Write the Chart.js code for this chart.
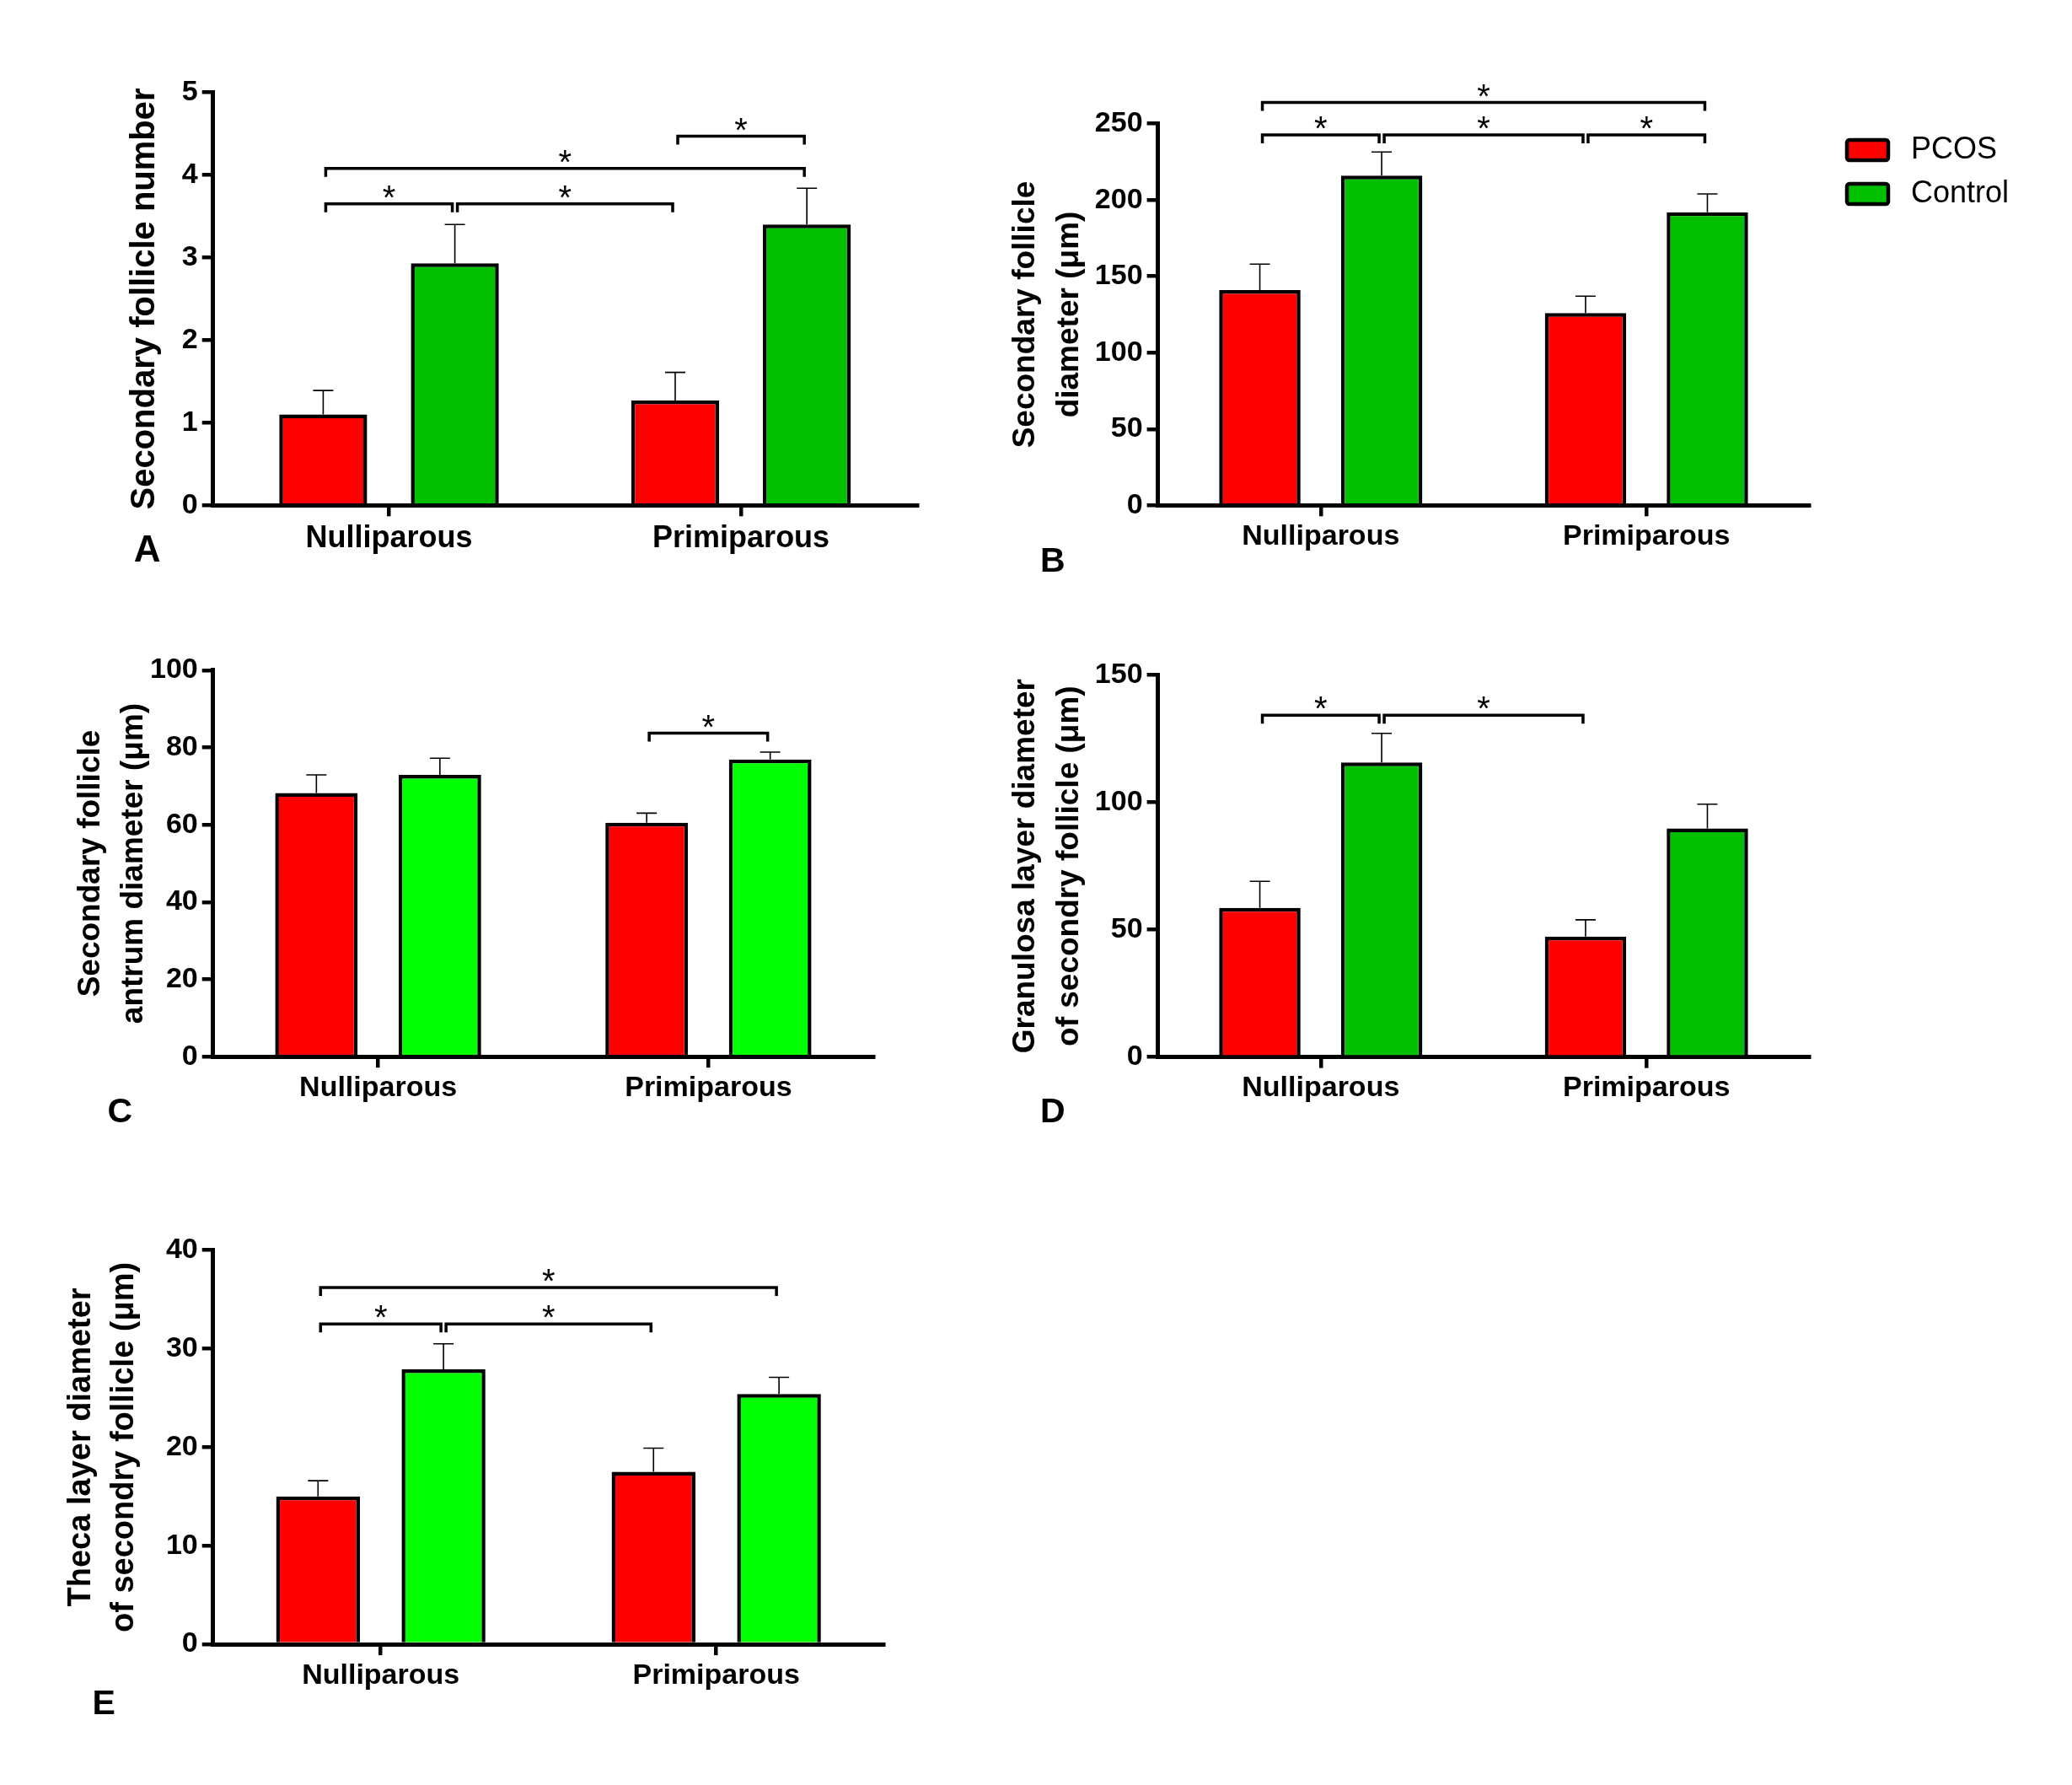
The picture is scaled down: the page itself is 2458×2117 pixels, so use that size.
<!DOCTYPE html>
<html>
<head>
<meta charset="utf-8">
<title>Secondary follicle measurements</title>
<script src="https://cdn.jsdelivr.net/npm/chart.js@4.4.1/dist/chart.umd.min.js"></script>
<style>
  body { margin: 0; background: #fff; }
  #page { position: relative; width: 2458px; height: 2117px; background: #fff; overflow: hidden; }
  #page canvas { position: absolute; }
</style>
</head>
<body>
<div id="page">
  <canvas id="panelA" width="1150" height="700" style="left:0px;top:0px"></canvas>
  <canvas id="panelB" width="1308" height="700" style="left:1150px;top:0px"></canvas>
  <canvas id="panelC" width="1150" height="700" style="left:0px;top:700px"></canvas>
  <canvas id="panelD" width="1308" height="700" style="left:1150px;top:700px"></canvas>
  <canvas id="panelE" width="1150" height="717" style="left:0px;top:1400px"></canvas>
</div>
<script>
const categories = ['Nulliparous', 'Primiparous'];
const groups = ['PCOS', 'Control'];

// bar index used by brackets: 0 = Nulli PCOS, 1 = Nulli Control, 2 = Primi PCOS, 3 = Primi Control

// A - secondary follicle number
const numberPcos = [1.10, 1.27];
const numberPcosSem = [0.29, 0.34];
const numberControl = [2.93, 3.40];
const numberControlSem = [0.47, 0.44];
const numberTicks = [0, 1, 2, 3, 4, 5];
const numberBrackets = [[0, 1, 3.65], [1, 2, 3.65], [0, 3, 4.08], [2, 3, 4.47]];

// B - secondary follicle diameter
const diameterPcos = [141, 126];
const diameterPcosSem = [17, 11];
const diameterControl = [216, 192];
const diameterControlSem = [15.5, 12];
const diameterTicks = [0, 50, 100, 150, 200, 250];
const diameterBrackets = [[0, 1, 242.6], [1, 2, 242.6], [2, 3, 242.6], [0, 3, 263.9]];

// C - antrum diameter
const antrumPcos = [68.2, 60.5];
const antrumPcosSem = [4.7, 2.5];
const antrumControl = [72.9, 76.9];
const antrumControlSem = [4.3, 1.9];
const antrumTicks = [0, 20, 40, 60, 80, 100];
const antrumBrackets = [[2, 3, 83.7]];

// D - granulosa layer
const granulosaPcos = [58.6, 47.3];
const granulosaPcosSem = [10.4, 6.6];
const granulosaControl = [115.7, 89.8];
const granulosaControlSem = [11.4, 9.5];
const granulosaTicks = [0, 50, 100, 150];
const granulosaBrackets = [[0, 1, 134.2], [1, 2, 134.2]];

// E - theca layer
const thecaPcos = [15.0, 17.5];
const thecaPcosSem = [1.6, 2.4];
const thecaControl = [27.9, 25.4];
const thecaControlSem = [2.6, 1.7];
const thecaTicks = [0, 10, 20, 30, 40];
const thecaBrackets = [[0, 1, 32.5], [1, 2, 32.5], [0, 3, 36.2]];

const FONT = "'Liberation Sans', Arial, Helvetica, sans-serif";

// error bars, significance brackets, panel letter and (for B) the legend
var panelDecor = {
  id: 'panelDecor',
  afterDatasetsDraw: function (chart, args, opts) {
    var ctx = chart.ctx;
    var y = chart.scales.y;
    var barX = function (i) {
      return chart.getDatasetMeta(i % 2).data[Math.floor(i / 2)].x;
    };
    ctx.save();
    ctx.strokeStyle = '#000';
    ctx.fillStyle = '#000';

    ctx.lineWidth = 1.6;
    chart.data.datasets.forEach(function (ds, di) {
      chart.getDatasetMeta(di).data.forEach(function (bar, i) {
        var top = y.getPixelForValue(ds.data[i] + opts.sem[di][i]);
        ctx.beginPath();
        ctx.moveTo(bar.x, bar.y);
        ctx.lineTo(bar.x, top);
        ctx.moveTo(bar.x - 12, top);
        ctx.lineTo(bar.x + 12, top);
        ctx.stroke();
      });
    });

    ctx.lineWidth = 3.5;
    ctx.font = '40px ' + FONT;
    ctx.textAlign = 'center';
    ctx.textBaseline = 'alphabetic';
    opts.brackets.forEach(function (b) {
      var x1 = barX(b[0]) + 3, x2 = barX(b[1]) - 3;
      var yy = y.getPixelForValue(b[2]);
      ctx.beginPath();
      ctx.moveTo(x1, yy + 10);
      ctx.lineTo(x1, yy);
      ctx.lineTo(x2, yy);
      ctx.lineTo(x2, yy + 10);
      ctx.stroke();
      ctx.fillText('*', (x1 + x2) / 2, yy + 6);
    });

    ctx.textAlign = 'left';
    ctx.font = 'bold ' + opts.letter.size + 'px ' + FONT;
    ctx.fillText(opts.letter.text, opts.letter.x, opts.letter.y);

    if (opts.legend) {
      var L = opts.legend;
      chart.data.datasets.forEach(function (ds, di) {
        var by = L.y + di * L.step;
        ctx.beginPath();
        ctx.roundRect(L.x, by, L.w, L.h, 3);
        ctx.fillStyle = ds.backgroundColor;
        ctx.fill();
        ctx.lineWidth = 4.5;
        ctx.stroke();
        ctx.fillStyle = '#000';
        ctx.font = '36px ' + FONT;
        ctx.textBaseline = 'middle';
        ctx.fillText(ds.label, L.textX, by + L.h / 2);
      });
    }
    ctx.restore();
  }
};

function makePanel(id, p) {
  return new Chart(document.getElementById(id), {
    type: 'bar',
    data: {
      labels: categories,
      datasets: [{
        label: groups[0],
        data: p.pcos,
        backgroundColor: '#ff0000',
        borderColor: '#000',
        borderWidth: 4.5,
        categoryPercentage: 0.748,
        barPercentage: 0.668
      }, {
        label: groups[1],
        data: p.control,
        backgroundColor: p.green,
        borderColor: '#000',
        borderWidth: 4.5,
        categoryPercentage: 0.748,
        barPercentage: 0.668
      }]
    },
    options: {
      responsive: false,
      animation: false,
      layout: {
        autoPadding: false,
        padding: { top: p.top, right: p.right, bottom: 0, left: 0 }
      },
      plugins: {
        legend: { display: false },
        tooltip: { enabled: false },
        panelDecor: {
          sem: [p.pcosSem, p.controlSem],
          brackets: p.brackets,
          letter: p.letter,
          legend: p.legend
        }
      },
      scales: {
        x: {
          offset: true,
          grid: { offset: false, drawOnChartArea: false, tickLength: 13, lineWidth: 4.5, color: '#000' },
          border: { width: 5, color: '#000' },
          ticks: { color: '#000', padding: p.catPad, font: { family: FONT, size: p.catSize, weight: 'bold' } },
          afterFit: function (s) { s.height = p.xHeight; }
        },
        y: {
          min: 0,
          max: p.ticks[p.ticks.length - 1],
          afterBuildTicks: function (s) { s.ticks = p.ticks.map(function (v) { return { value: v }; }); },
          grid: { drawOnChartArea: false, tickLength: 13, lineWidth: 4.5, color: '#000' },
          border: { width: 5, color: '#000' },
          ticks: { color: '#000', padding: 5, font: { family: FONT, size: 34, weight: 'bold' } },
          title: {
            display: true,
            text: p.title,
            color: '#000',
            font: { family: FONT, size: p.titleSize, weight: 'bold', lineHeight: p.titleLH },
            padding: { top: p.titlePad, bottom: 0 }
          },
          afterFit: function (s) { s.width = p.yWidth; }
        }
      }
    },
    plugins: [panelDecor]
  });
}

makePanel('panelA', {
  pcos: numberPcos, pcosSem: numberPcosSem, control: numberControl, controlSem: numberControlSem,
  ticks: numberTicks, brackets: numberBrackets, green: '#00c000',
  title: 'Secondary follicle number', titleSize: 40, titleLH: 1.2, titlePad: 148.2,
  yWidth: 252.7, top: 109.6, right: 62.1, xHeight: 100.7, catSize: 36, catPad: 5,
  letter: { text: 'A', x: 158.8, y: 666.4, size: 44 }
});

makePanel('panelB', {
  pcos: diameterPcos, pcosSem: diameterPcosSem, control: diameterControl, controlSem: diameterControlSem,
  ticks: diameterTicks, brackets: diameterBrackets, green: '#00c000',
  title: ['Secondary follicle', 'diameter (μm)'], titleSize: 37, titleLH: 1.39, titlePad: 41.4,
  yWidth: 223.6, top: 146.7, right: 311.6, xHeight: 100.7, catSize: 34, catPad: 4,
  letter: { text: 'B', x: 84.1, y: 677.6, size: 41 },
  legend: { x: 1041, y: 166, w: 49, h: 24, step: 52, textX: 1117 }
});

makePanel('panelC', {
  pcos: antrumPcos, pcosSem: antrumPcosSem, control: antrumControl, controlSem: antrumControlSem,
  ticks: antrumTicks, brackets: antrumBrackets, green: '#00ff00',
  title: ['Secondary follicle', 'antrum diameter (μm)'], titleSize: 37, titleLH: 1.39, titlePad: 81.6,
  yWidth: 252.7, top: 94.8, right: 113.7, xHeight: 146.8, catSize: 34, catPad: 4,
  letter: { text: 'C', x: 127.5, y: 630.6, size: 41 }
});

makePanel('panelD', {
  pcos: granulosaPcos, pcosSem: granulosaPcosSem, control: granulosaControl, controlSem: granulosaControlSem,
  ticks: granulosaTicks, brackets: granulosaBrackets, green: '#00c000',
  title: ['Granulosa layer diameter', 'of secondry follicle (μm)'], titleSize: 37, titleLH: 1.39, titlePad: 41.4,
  yWidth: 223.6, top: 100.6, right: 311.6, xHeight: 146.3, catSize: 34, catPad: 4,
  letter: { text: 'D', x: 84.1, y: 630.6, size: 41 }
});

makePanel('panelE', {
  pcos: thecaPcos, pcosSem: thecaPcosSem, control: thecaControl, controlSem: thecaControlSem,
  ticks: thecaTicks, brackets: thecaBrackets, green: '#00ff00',
  title: ['Theca layer diameter', 'of secondry follicle (μm)'], titleSize: 38, titleLH: 1.35, titlePad: 70.5,
  yWidth: 252.7, top: 82.7, right: 101.3, xHeight: 166.9, catSize: 34, catPad: 4,
  letter: { text: 'E', x: 109.6, y: 632.8, size: 41 }
});
</script>
</body>
</html>
